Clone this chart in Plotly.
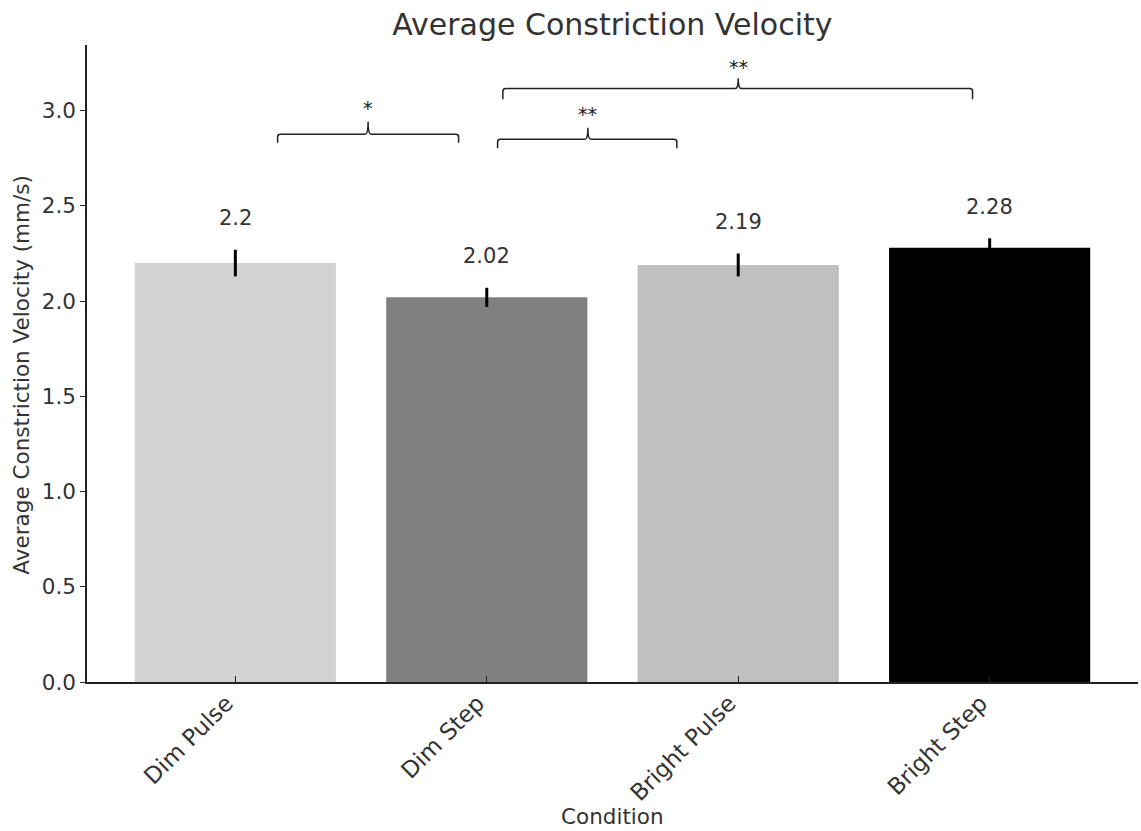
import plotly.graph_objects as go

# ---- data ----
categories = ["Dim Pulse", "Dim Step", "Bright Pulse", "Bright Step"]
means = [2.20, 2.02, 2.19, 2.28]
errors = [0.07, 0.05, 0.06, 0.05]
bar_colors = ["#d3d3d3", "#808080", "#c0c0c0", "#000000"]
y_ticks = [0.0, 0.5, 1.0, 1.5, 2.0, 2.5, 3.0]

# significance brackets: (x_left, x_right, x_center, y_line, y_end, y_tip, y_text, label)
brackets = [
    (0.168, 0.888, 0.528, 2.876, 2.832, 2.942, 3.016, "*"),
    (1.043, 1.756, 1.402, 2.850, 2.803, 2.911, 2.984, "**"),
    (1.064, 2.932, 2.000, 3.117, 3.060, 3.171, 3.232, "**"),
]

TXT = "#333333"
FONT = "DejaVu Sans"

xs = list(range(len(categories)))

fig = go.Figure()
fig.add_trace(go.Bar(
    x=xs, y=means, width=0.8,
    marker=dict(color=bar_colors, line=dict(width=0)),
    error_y=dict(type="data", array=errors, visible=True,
                 color="black", thickness=3, width=0),
    showlegend=False,
))

# value labels
for x, m, e in zip(xs, means, errors):
    fig.add_annotation(x=x, y=m + e + 0.166, text=f"{m:g}", showarrow=False,
                       xref="x", yref="y", yanchor="middle",
                       font=dict(family=FONT, size=21, color=TXT))

# brackets
dx = 0.012
dy = 0.014
for (x0, x1, xc, yl, ye, yt, ys, lab) in brackets:
    path = (f"M {x0},{ye} L {x0},{yl - dy} Q {x0},{yl} {x0 + dx},{yl} "
            f"L {xc - dx},{yl} Q {xc},{yl} {xc},{yt} Q {xc},{yl} {xc + dx},{yl} "
            f"L {x1 - dx},{yl} Q {x1},{yl} {x1},{yl - dy} L {x1},{ye}")
    fig.add_shape(type="path", path=path, xref="x", yref="y",
                  line=dict(color="#222222", width=1.5))
    fig.add_annotation(x=xc, y=ys, text=lab, showarrow=False, xref="x", yref="y",
                       yanchor="middle", font=dict(family=FONT, size=19, color="#1a1a1a"))

# axis titles as annotations
fig.add_annotation(x=0.5, y=-0.2117, xref="paper", yref="paper", text="Condition",
                   showarrow=False, yanchor="middle",
                   font=dict(family=FONT, size=21.5, color=TXT))
fig.add_annotation(x=-0.0618, y=0.481, xref="paper", yref="paper",
                   text="Average Constriction Velocity (mm/s)", textangle=-90,
                   showarrow=False, xanchor="center", yanchor="middle",
                   font=dict(family=FONT, size=21.5, color=TXT))

fig.update_layout(
    width=1141, height=831,
    margin=dict(l=87, r=3, t=45, b=148.5),
    plot_bgcolor="white", paper_bgcolor="white",
    font=dict(family=FONT, color=TXT),
    title=dict(text="Average Constriction Velocity", x=0.5367, xanchor="center",
               y=1 - 24 / 831, yanchor="middle",
               font=dict(family=FONT, size=30, color=TXT)),
    bargap=0.2,
)
fig.update_xaxes(
    range=[-0.59, 3.59], tickvals=xs, ticktext=categories, tickangle=-45,
    showline=True, linecolor="#222222", linewidth=1.5, mirror=False,
    ticks="inside", ticklen=6, tickwidth=1.2, tickcolor="#222222",
    showgrid=False, zeroline=False,
    ticklabelshift=-9, ticklabelstandoff=-3,
    tickfont=dict(family=FONT, size=23, color=TXT),
)
fig.update_yaxes(
    range=[0, 3.345], tickvals=y_ticks, tickformat=".1f",
    showline=True, linecolor="#222222", linewidth=1.5,
    ticks="outside", ticklen=5, tickwidth=1.2, tickcolor="#222222",
    showgrid=False, zeroline=False,
    tickfont=dict(family=FONT, size=21.5, color=TXT),
)

fig.write_html("out.html")
